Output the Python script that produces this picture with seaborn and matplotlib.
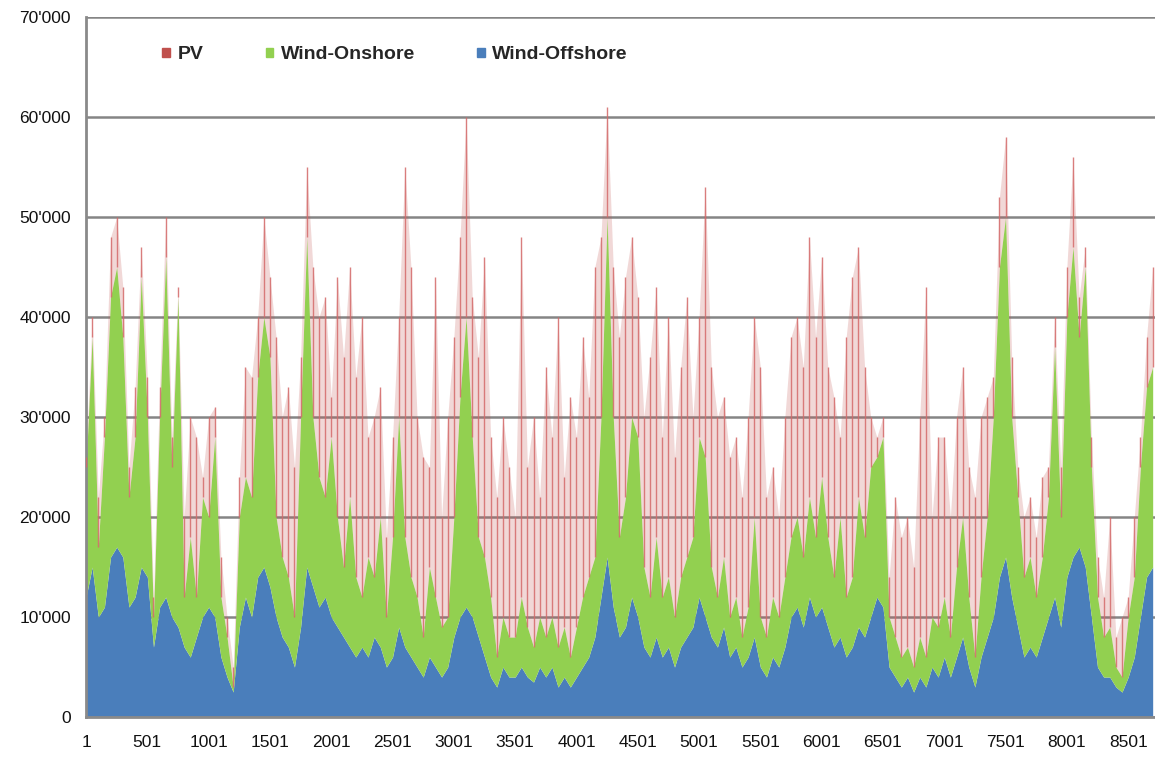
import numpy as np
import pandas as pd
import matplotlib
matplotlib.use("Agg")
import matplotlib.pyplot as plt
from matplotlib.patches import Patch
from matplotlib.ticker import FuncFormatter
import seaborn as sns

# hour of year for each reading (one reading every 50 h)
hours = list(range(1, 8702, 50))

# top of each band, in thousand MW
offshore_top = [
    12, 15, 10, 11, 16, 17, 16, 11, 12, 15,
    14, 7, 11, 12, 10, 9, 7, 6, 8, 10,
    11, 10, 6, 4, 2.5, 9, 12, 10, 14, 15,
    13, 10, 8, 7, 5, 9, 15, 13, 11, 12,
    10, 9, 8, 7, 6, 7, 6, 8, 7, 5,
    6, 9, 7, 6, 5, 4, 6, 5, 4, 5,
    8, 10, 11, 10, 8, 6, 4, 3, 5, 4,
    4, 5, 4, 3.5, 5, 4, 5, 3, 4, 3,
    4, 5, 6, 8, 12, 16, 11, 8, 9, 12,
    10, 7, 6, 8, 6, 7, 5, 7, 8, 9,
    12, 10, 8, 7, 9, 6, 7, 5, 6, 8,
    5, 4, 6, 5, 7, 10, 11, 9, 12, 10,
    11, 9, 7, 8, 6, 7, 9, 8, 10, 12,
    11, 5, 4, 3, 4, 2.5, 4, 3, 5, 4,
    6, 4, 6, 8, 5, 3, 6, 8, 10, 14,
    16, 12, 9, 6, 7, 6, 8, 10, 12, 9,
    14, 16, 17, 15, 10, 5, 4, 4, 3, 2.5,
    4, 6, 10, 14, 15,
]
onshore_top = [
    25, 38, 17, 28, 42, 45, 38, 22, 28, 44,
    30, 10, 30, 46, 25, 42, 12, 18, 12, 22,
    20, 28, 12, 8, 3, 20, 24, 22, 34, 40,
    36, 20, 16, 14, 10, 30, 48, 30, 24, 22,
    28, 20, 15, 22, 14, 12, 16, 14, 20, 10,
    18, 30, 18, 14, 12, 8, 15, 12, 9, 10,
    20, 32, 40, 28, 18, 16, 12, 6, 10, 8,
    8, 12, 9, 7, 10, 8, 10, 7, 9, 6,
    9, 12, 14, 16, 30, 50, 30, 18, 22, 30,
    28, 15, 12, 18, 12, 14, 10, 14, 16, 18,
    28, 26, 15, 12, 16, 10, 12, 8, 11, 20,
    10, 8, 12, 10, 14, 18, 20, 16, 22, 18,
    24, 18, 14, 20, 12, 14, 22, 18, 25, 26,
    28, 10, 8, 6, 7, 5, 8, 6, 10, 9,
    12, 8, 15, 20, 12, 6, 14, 20, 30, 45,
    50, 30, 22, 14, 16, 12, 16, 22, 37, 20,
    40, 47, 38, 45, 25, 12, 8, 9, 5, 4,
    10, 14, 25, 33, 35,
]
total_top = [
    26, 40, 22, 30, 48, 50, 43, 25, 33, 47,
    34, 12, 33, 50, 28, 43, 20, 30, 28, 24,
    30, 31, 16, 10, 5, 24, 35, 34, 40, 50,
    44, 38, 30, 33, 25, 36, 55, 45, 40, 42,
    32, 44, 36, 45, 34, 40, 28, 30, 33, 18,
    28, 40, 55, 45, 30, 26, 25, 44, 20, 30,
    38, 48, 60, 42, 36, 46, 28, 22, 30, 25,
    20, 48, 25, 30, 22, 35, 28, 40, 24, 32,
    28, 38, 32, 45, 48, 61, 45, 38, 44, 48,
    42, 30, 36, 43, 28, 40, 26, 35, 42, 30,
    40, 53, 35, 30, 32, 26, 28, 22, 30, 40,
    35, 22, 25, 20, 30, 38, 40, 35, 48, 38,
    46, 35, 32, 28, 38, 44, 47, 35, 30, 28,
    30, 14, 22, 18, 20, 15, 30, 43, 20, 28,
    28, 20, 30, 35, 25, 22, 30, 32, 34, 52,
    58, 36, 25, 20, 22, 18, 24, 25, 40, 25,
    45, 56, 42, 47, 28, 16, 12, 20, 8, 10,
    12, 20, 28, 38, 45,
]

df = pd.DataFrame({"hour": hours, "off": offshore_top,
                   "on": onshore_top, "tot": total_top})
df["Wind-Offshore"] = df["off"] * 1000
df["Wind-Onshore"] = (df["on"] - df["off"]) * 1000
df["PV"] = (df["tot"] - df["on"]) * 1000

c_pv = "#C0504D"
c_on = "#92D050"
c_off = "#4A7EBB"

sns.set_theme(style="white")
plt.rcParams["font.family"] = ["Liberation Sans", "DejaVu Sans"]

fig = plt.figure(figsize=(11.55, 7.58), dpi=100)
ax = fig.add_axes([0.0745, 0.054, 0.9255, 0.9235])

ax.stackplot(df["hour"], df["Wind-Offshore"], df["Wind-Onshore"], df["PV"],
             colors=[c_off, c_on, c_pv], linewidth=0, zorder=2)
# the PV band is made of thin daily spikes, so it looks like a light haze
ax.collections[2].set_alpha(0.22)
ax.vlines(df["hour"], df["on"] * 1000, df["tot"] * 1000,
          color="#D46A6A", linewidth=1.0, alpha=0.85, zorder=3)

ax.set_xlim(1, 8720)
ax.set_ylim(0, 70000)
ax.set_xticks(range(1, 8502, 500))
ax.set_yticks(range(0, 70001, 10000))
ax.yaxis.set_major_formatter(FuncFormatter(lambda v, p: f"{int(v):,}".replace(",", "'")))

ax.set_axisbelow(True)
ax.grid(axis="y", color="#858585", linewidth=1.8)
ax.grid(axis="x", visible=False)
for s in ["top", "right"]:
    ax.spines[s].set_visible(False)
for s in ["left", "bottom"]:
    ax.spines[s].set_color("#8A8A8A")
    ax.spines[s].set_linewidth(2)
ax.tick_params(axis="both", which="major", direction="out", length=5, width=1.5,
               color="#8A8A8A", labelsize=12.5, labelcolor="#111111", pad=6)
ax.tick_params(axis="x", pad=8)

handles = [Patch(color=c_pv, label="PV"),
           Patch(color=c_on, label="Wind-Onshore"),
           Patch(color=c_off, label="Wind-Offshore")]
ax.legend(handles=handles, loc="center left", bbox_to_anchor=(0.055, 0.946),
          ncol=3, frameon=False, handlelength=0.38, handleheight=0.38,
          handletextpad=0.4, columnspacing=3.2,
          prop={"weight": "bold", "size": 14})

fig.savefig("out.png", dpi=100)
